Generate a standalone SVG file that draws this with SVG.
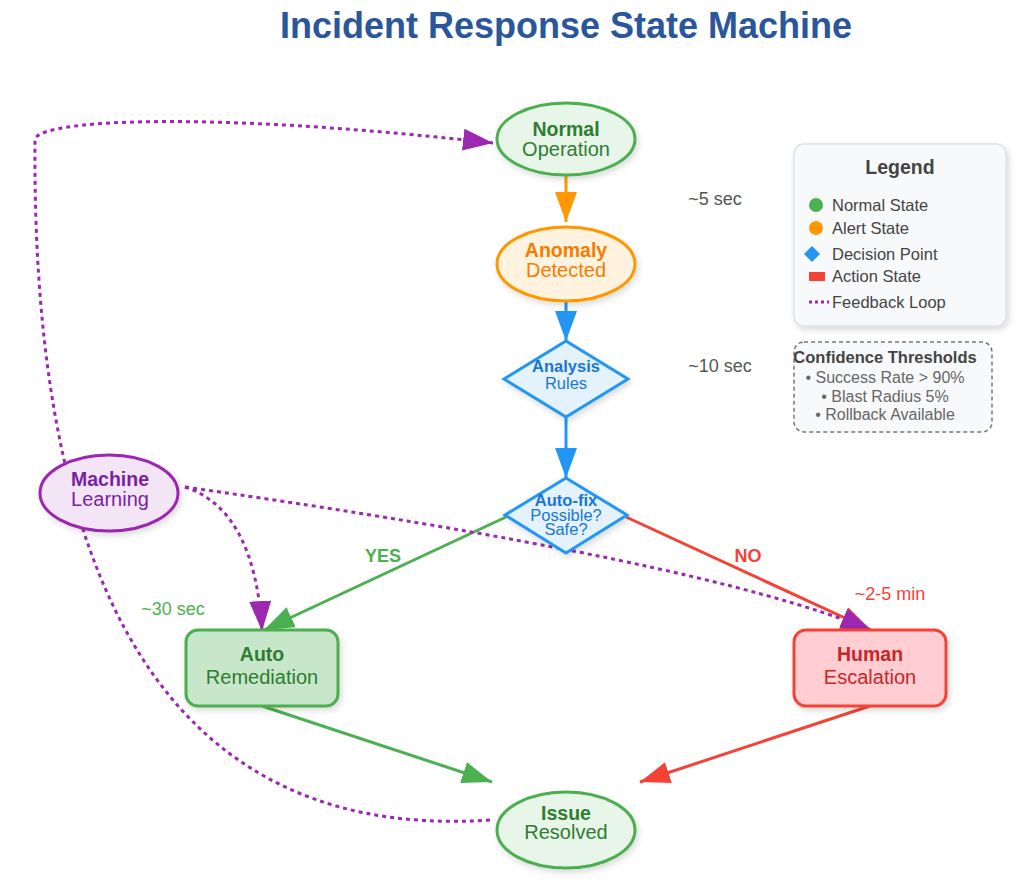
<svg xmlns="http://www.w3.org/2000/svg" width="1022" height="883" viewBox="0 0 1022 883">
<defs>
<style>
text{font-family:"Liberation Sans",Arial,sans-serif;text-anchor:middle}
.b{font-weight:bold}
.conn{fill:none;stroke-width:3}
.fb{fill:none;stroke:#9c27b0;stroke-width:3;stroke-dasharray:4,4}
.lg{font-size:16.5px;fill:#444;text-anchor:start}
.ct{font-size:16px;fill:#666}
.nb{font-size:19.5px;font-weight:bold}
.nr{font-size:20px}
.tm{font-size:18px}
</style>
<filter id="sh" x="-20%" y="-20%" width="140%" height="150%">
<feDropShadow dx="2" dy="3" stdDeviation="3" flood-color="#000" flood-opacity="0.15"/>
</filter>
<marker id="mO" markerUnits="userSpaceOnUse" markerWidth="32" markerHeight="24" refX="30" refY="11" orient="auto"><path d="M0,0 L30,11 L0,22 Z" fill="#ff9800"/></marker>
<marker id="mB" markerUnits="userSpaceOnUse" markerWidth="32" markerHeight="24" refX="30" refY="11" orient="auto"><path d="M0,0 L30,11 L0,22 Z" fill="#2196f3"/></marker>
<marker id="mG" markerUnits="userSpaceOnUse" markerWidth="32" markerHeight="24" refX="30" refY="11" orient="auto"><path d="M0,0 L30,11 L0,22 Z" fill="#4caf50"/></marker>
<marker id="mR" markerUnits="userSpaceOnUse" markerWidth="32" markerHeight="24" refX="30" refY="11" orient="auto"><path d="M0,0 L30,11 L0,22 Z" fill="#f44336"/></marker>
<marker id="mP" markerUnits="userSpaceOnUse" markerWidth="32" markerHeight="24" refX="30" refY="11" orient="auto"><path d="M0,0 L30,11 L0,22 Z" fill="#9c27b0"/></marker>
</defs>
<rect width="1022" height="883" fill="#ffffff"/>
<text x="566" y="38" class="b" style="font-size:36px;fill:#2b579a">Incident Response State Machine</text>

<g id="connectors">
<line class="conn" x1="566" y1="176" x2="566" y2="222" stroke="#ff9800" marker-end="url(#mO)"/>
<line class="conn" x1="566" y1="302" x2="566" y2="341" stroke="#2196f3" marker-end="url(#mB)"/>
<line class="conn" x1="566" y1="417" x2="566" y2="478" stroke="#2196f3" marker-end="url(#mB)"/>
<line class="conn" x1="506" y1="517" x2="264" y2="630" stroke="#4caf50" marker-end="url(#mG)"/>
<line class="conn" x1="626" y1="517" x2="871" y2="630" stroke="#f44336" marker-end="url(#mR)"/>
<line class="conn" x1="262" y1="706" x2="492" y2="782" stroke="#4caf50" marker-end="url(#mG)"/>
<line class="conn" x1="870" y1="706" x2="640" y2="782" stroke="#f44336" marker-end="url(#mR)"/>
<path class="fb" d="M490,820 C125,845 32,510 35,140 C35,120 200,110 493,143" marker-end="url(#mP)"/>
<path class="fb" d="M185,487 Q255,510 262,631" marker-end="url(#mP)"/>
<path class="fb" d="M185,487 Q700,560 871,630" marker-end="url(#mP)"/>
<text x="383" y="562" class="b tm" style="fill:#4caf50">YES</text>
<text x="748" y="562" class="b tm" style="fill:#f44336">NO</text>
<text x="715" y="205" class="tm" style="fill:#555">~5 sec</text>
<text x="720" y="372" class="tm" style="fill:#555">~10 sec</text>
<text x="173" y="615" class="tm" style="fill:#4caf50">~30 sec</text>
<text x="890" y="600" class="tm" style="fill:#f44336">~2-5 min</text>
</g>

<g id="normal">
<ellipse cx="566" cy="139" rx="69" ry="36" fill="#e8f5e9" stroke="#4caf50" stroke-width="3" filter="url(#sh)"/>
<text x="566" y="136" class="nb" style="fill:#2e7d32">Normal</text>
<text x="566" y="156" class="nr" style="fill:#2e7d32">Operation</text>
</g>
<g id="anomaly">
<ellipse cx="566" cy="264" rx="69" ry="37" fill="#fff3e0" stroke="#ff9800" stroke-width="3" filter="url(#sh)"/>
<text x="566" y="257" class="nb" style="fill:#f57c00">Anomaly</text>
<text x="566" y="277" class="nr" style="fill:#f57c00">Detected</text>
</g>
<g id="analysis">
<polygon points="566,341 628,379 566,417 504,379" fill="#e3f2fd" stroke="#2196f3" stroke-width="3" filter="url(#sh)"/>
<text x="566" y="372" class="b" style="font-size:16.5px;fill:#1976d2">Analysis</text>
<text x="566" y="389" style="font-size:16.5px;fill:#1976d2">Rules</text>
</g>
<g id="autofix">
<polygon points="566,478 627,515 566,553 505,515" fill="#e3f2fd" stroke="#2196f3" stroke-width="3" filter="url(#sh)"/>
<text x="566" y="506" class="b" style="font-size:16.5px;fill:#1976d2">Auto-fix</text>
<text x="566" y="521" style="font-size:16.5px;fill:#1976d2">Possible?</text>
<text x="566" y="535" style="font-size:16.5px;fill:#1976d2">Safe?</text>
</g>
<g id="ml">
<ellipse cx="109" cy="493" rx="69" ry="38" fill="#f3e5f5" stroke="#9c27b0" stroke-width="3" filter="url(#sh)"/>
<text x="110" y="486" class="nb" style="fill:#7b1fa2">Machine</text>
<text x="110" y="506" class="nr" style="fill:#7b1fa2">Learning</text>
</g>
<g id="auto">
<rect x="186" y="630" width="152" height="76" rx="12" fill="#c8e6c9" stroke="#4caf50" stroke-width="3" filter="url(#sh)"/>
<text x="262" y="661" class="nb" style="fill:#2e7d32">Auto</text>
<text x="262" y="684" class="nr" style="fill:#2e7d32">Remediation</text>
</g>
<g id="human">
<rect x="794" y="630" width="152" height="76" rx="12" fill="#ffcdd2" stroke="#f44336" stroke-width="3" filter="url(#sh)"/>
<text x="870" y="661" class="nb" style="fill:#c62828">Human</text>
<text x="870" y="684" class="nr" style="fill:#c62828">Escalation</text>
</g>
<g id="resolved">
<ellipse cx="566" cy="830" rx="69" ry="38" fill="#e8f5e9" stroke="#4caf50" stroke-width="3" filter="url(#sh)"/>
<text x="566" y="820" class="nb" style="fill:#2e7d32">Issue</text>
<text x="566" y="839" class="nr" style="fill:#2e7d32">Resolved</text>
</g>

<g id="legend">
<rect x="794" y="144" width="212" height="182" rx="10" fill="#f8f9fa" stroke="#dee2e6" stroke-width="1.5" filter="url(#sh)"/>
<text x="900" y="174" class="b" style="font-size:19.5px;fill:#444">Legend</text>
<circle cx="816" cy="205" r="7" fill="#4caf50"/>
<text x="832" y="211" class="lg">Normal State</text>
<circle cx="816" cy="228" r="7" fill="#ff9800"/>
<text x="832" y="234" class="lg">Alert State</text>
<polygon points="812,246 820,254 812,262 804,254" fill="#2196f3"/>
<text x="832" y="260" class="lg">Decision Point</text>
<rect x="809" y="272" width="16" height="9" fill="#f44336"/>
<text x="832" y="282" class="lg">Action State</text>
<line x1="809" y1="302" x2="829" y2="302" stroke="#9c27b0" stroke-width="3" stroke-dasharray="3,3"/>
<text x="832" y="308" class="lg">Feedback Loop</text>
</g>
<g id="thresholds">
<rect x="794" y="342" width="198" height="90" rx="10" fill="#f8f9fa" stroke="#777" stroke-width="1.5" stroke-dasharray="4,3"/>
<text x="885" y="363" class="b" style="font-size:16.5px;fill:#444">Confidence Thresholds</text>
<text x="885" y="383" class="ct">• Success Rate &gt; 90%</text>
<text x="885" y="402" class="ct">• Blast Radius 5%</text>
<text x="885" y="420" class="ct">• Rollback Available</text>
</g>
</svg>
